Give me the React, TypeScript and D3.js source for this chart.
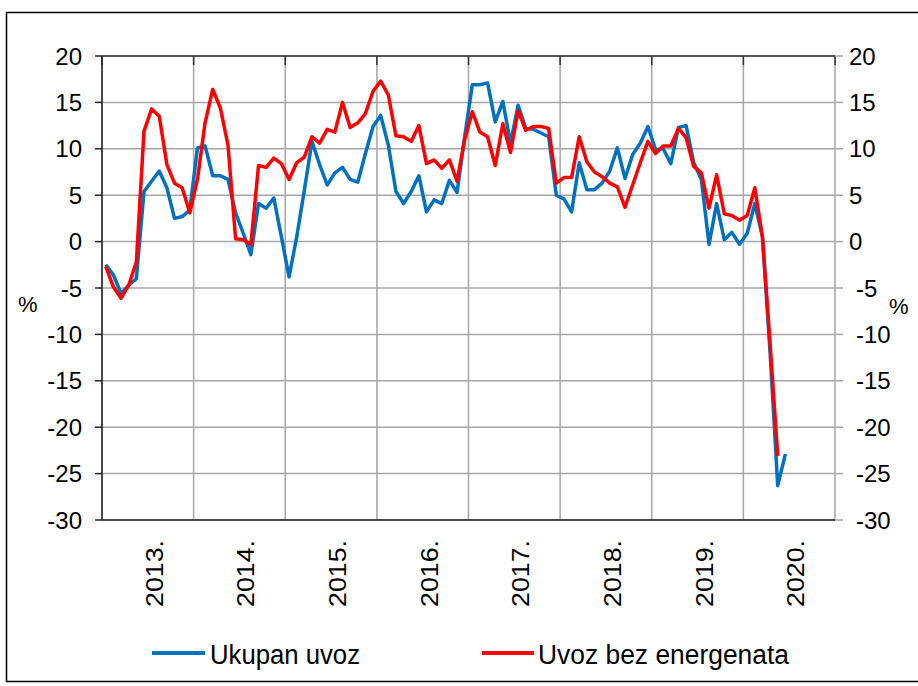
import React from "react";
import * as d3 from "d3";

const years = ["2013.", "2014.", "2015.", "2016.", "2017.", "2018.", "2019.", "2020."];
const yTicks = [20, 15, 10, 5, 0, -5, -10, -15, -20, -25, -30];
const seriesNames = ["Ukupan uvoz", "Uvoz bez energenata"];

// Monthly values from Jan 2013
const ukupanUvoz = [
  -2.5, -3.6, -5.6, -4.7, -4.0, 5.4, 6.5, 7.6, 5.8, 2.5, 2.7, 3.4,
  10.1, 10.3, 7.1, 7.1, 6.7, 3.1, 0.9, -1.4, 4.1, 3.6, 4.7, 0.5,
  -3.8, 0.5, 5.5, 10.8, 8.3, 6.1, 7.4, 8.0, 6.7, 6.4, 9.5, 12.4,
  13.6, 10.4, 5.4, 4.1, 5.4, 7.1, 3.2, 4.5, 4.1, 6.6, 5.3, 11.3,
  16.9, 16.9, 17.1, 12.9, 15.1, 10.6, 14.7, 12.2, 12.1, 11.7, 11.3, 5.0,
  4.6, 3.2, 8.5, 5.6, 5.6, 6.3, 7.6, 10.1, 6.8, 9.4, 10.6, 12.4,
  9.9, 10.0, 8.4, 12.3, 12.5, 8.5, 6.7, -0.3, 4.1, 0.2, 1.0, -0.3,
  0.9, 4.1, 0.5, -12.0, -26.3, -22.9,
];
const uvozBezEnergenata = [
  -2.7, -4.9, -6.1, -4.7, -2.2, 11.9, 14.3, 13.5, 8.3, 6.3, 5.8, 3.1,
  6.7, 12.8, 16.4, 14.4, 10.4, 0.3, 0.2, -0.3, 8.2, 8.0, 9.0, 8.4,
  6.7, 8.5, 9.1, 11.3, 10.6, 12.1, 11.8, 15.0, 12.3, 12.8, 13.8, 16.2,
  17.3, 15.8, 11.4, 11.3, 10.8, 12.5, 8.4, 8.8, 7.9, 8.8, 6.5, 11.0,
  14.0, 11.8, 11.3, 8.2, 12.7, 9.6, 14.1, 12.0, 12.4, 12.4, 12.2, 6.3,
  6.9, 6.9, 11.3, 8.6, 7.5, 7.0, 6.3, 5.9, 3.7, 6.1, 8.5, 10.8,
  9.5, 10.3, 10.3, 12.2, 11.2, 8.1, 7.4, 3.6, 7.2, 3.0, 2.8, 2.3,
  2.8, 5.8, 0.5, -11.0, -23.1,
];

const BLUE = "#0070C0";
const RED = "#FF0000";
const GRID = "#a6a6a6";
const FONT = "'Liberation Sans', Arial, sans-serif";

export default function App() {
  const left = 102, right = 835, top = 56, bottom = 520;
  const x = d3.scaleLinear().domain([0, years.length * 12]).range([left, right]);
  const y = d3.scaleLinear().domain([-30, 20]).range([bottom, top]);
  const line = d3
    .line<number>()
    .x((_, i) => x(i + 0.5))
    .y((d) => y(d));
  const yearBounds = d3.range(0, years.length + 1).map((k) => k * 12);

  return (
    <svg
      width={918}
      height={686}
      style={{ position: "absolute", left: 0, top: 0, background: "#fff" }}
      fontFamily={FONT}
    >
      <rect x={0} y={0} width={918} height={686} fill="#fff" />
      <rect x={6.5} y={12.5} width={920} height={669} fill="none" stroke="#000" strokeWidth={1.5} />

      {/* horizontal gridlines */}
      {yTicks.map((t) => (
        <line key={"h" + t} x1={left} x2={right} y1={y(t)} y2={y(t)} stroke={GRID} strokeWidth={1.5} />
      ))}
      {/* vertical gridlines */}
      {yearBounds.map((m) => (
        <line key={"v" + m} x1={x(m)} x2={x(m)} y1={top} y2={bottom} stroke={GRID} strokeWidth={1.5} />
      ))}
      {/* top axis with inward ticks */}
      <line x1={left} x2={right} y1={top} y2={top} stroke="#333" strokeWidth={1.5} />
      {yearBounds.map((m) => (
        <line key={"tt" + m} x1={x(m)} x2={x(m)} y1={top} y2={top + 9} stroke="#333" strokeWidth={1.5} />
      ))}
      {/* bottom axis */}
      <line x1={left} x2={right} y1={bottom} y2={bottom} stroke="#222" strokeWidth={1.5} />
      {/* left axis */}
      <line x1={left} x2={left} y1={top} y2={bottom} stroke="#222" strokeWidth={1.5} />
      {yTicks.map((t) => (
        <line key={"lt" + t} x1={left - 7} x2={left} y1={y(t)} y2={y(t)} stroke="#222" strokeWidth={1.5} />
      ))}
      {/* right axis ticks */}
      {yTicks.map((t) => (
        <line key={"rt" + t} x1={right} x2={right + 8} y1={y(t)} y2={y(t)} stroke={GRID} strokeWidth={1.5} />
      ))}

      {/* left labels */}
      {yTicks.map((t) => (
        <text key={"ll" + t} x={82} y={y(t)} dy="0.36em" textAnchor="end" fontSize={24} fill="#000">
          {t}
        </text>
      ))}
      {/* right labels */}
      {yTicks.map((t) => (
        <text key={"rl" + t} x={t < 0 ? 856 : 849} y={y(t)} dy="0.36em" textAnchor="start" fontSize={24} fill="#000">
          {t}
        </text>
      ))}
      <text x={18} y={304} dy="0.36em" fontSize={22} fill="#000">%</text>
      <text x={889} y={306} dy="0.36em" fontSize={22} fill="#000">%</text>

      {/* year labels */}
      {years.map((yr, k) => {
        const cx = (x(k * 12) + x(k * 12 + 12)) / 2 + 6;
        return (
          <text
            key={yr}
            transform={`translate(${cx + 9},540) rotate(-90)`}
            textAnchor="end"
            fontSize={24}
            textLength={67}
            lengthAdjust="spacingAndGlyphs"
            fill="#000"
          >
            {yr}
          </text>
        );
      })}

      {/* series */}
      <path d={line(ukupanUvoz) || ""} fill="none" stroke={BLUE} strokeWidth={3.5} strokeLinejoin="round" />
      <path d={line(uvozBezEnergenata) || ""} fill="none" stroke={RED} strokeWidth={3.5} strokeLinejoin="round" />

      {/* legend */}
      <line x1={152} x2={205} y1={653} y2={653} stroke={BLUE} strokeWidth={4} />
      <text x={210} y={664} fontSize={27} textLength={150} lengthAdjust="spacingAndGlyphs" fill="#000">
        {seriesNames[0]}
      </text>
      <line x1={482} x2={534} y1={653} y2={653} stroke={RED} strokeWidth={4} />
      <text x={538} y={664} fontSize={27} textLength={251} lengthAdjust="spacingAndGlyphs" fill="#000">
        {seriesNames[1]}
      </text>
    </svg>
  );
}
